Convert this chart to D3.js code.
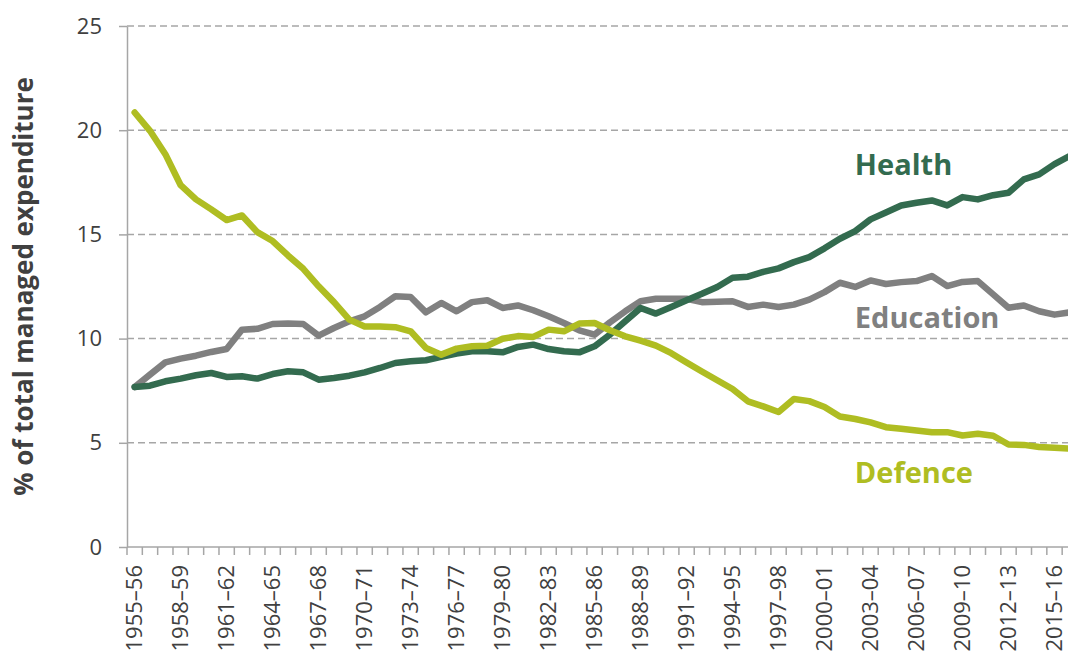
<!DOCTYPE html>
<html>
<head>
<meta charset="utf-8">
<script src="https://cdn.jsdelivr.net/npm/d3@7"></script>
<style>
    html, body { margin: 0; padding: 0; background: #fff; }
    svg { display: block; font-family: "Open Sans", sans-serif; }
</style>
</head>
<body>
<div id="chart"></div>
<script>
// financial years, 1955–56 to 2016–17
var years = [
    "1955–56", "1956–57", "1957–58", "1958–59", "1959–60", "1960–61", "1961–62", "1962–63",
    "1963–64", "1964–65", "1965–66", "1966–67", "1967–68", "1968–69", "1969–70", "1970–71",
    "1971–72", "1972–73", "1973–74", "1974–75", "1975–76", "1976–77", "1977–78", "1978–79",
    "1979–80", "1980–81", "1981–82", "1982–83", "1983–84", "1984–85", "1985–86", "1986–87",
    "1987–88", "1988–89", "1989–90", "1990–91", "1991–92", "1992–93", "1993–94", "1994–95",
    "1995–96", "1996–97", "1997–98", "1998–99", "1999–00", "2000–01", "2001–02", "2002–03",
    "2003–04", "2004–05", "2005–06", "2006–07", "2007–08", "2008–09", "2009–10", "2010–11",
    "2011–12", "2012–13", "2013–14", "2014–15", "2015–16", "2016–17"
];

var health = [
    7.68, 7.74, 7.95, 8.08, 8.24, 8.35, 8.16, 8.19, 8.08, 8.30,
    8.43, 8.38, 8.03, 8.11, 8.22, 8.38, 8.59, 8.83, 8.91, 8.96,
    9.12, 9.28, 9.39, 9.39, 9.34, 9.60, 9.71, 9.50, 9.39, 9.34,
    9.63, 10.19, 10.83, 11.47, 11.20, 11.52, 11.84, 12.15, 12.48, 12.92,
    12.97, 13.20, 13.37, 13.67, 13.91, 14.33, 14.79, 15.16, 15.72, 16.05,
    16.39, 16.52, 16.63, 16.39, 16.79, 16.68, 16.88, 17.00, 17.64, 17.88,
    18.37, 18.77
];

var education = [
    7.68, 8.27, 8.86, 9.04, 9.18, 9.36, 9.50, 10.43, 10.47, 10.70,
    10.72, 10.70, 10.14, 10.51, 10.83, 11.07, 11.52, 12.03, 12.00, 11.26,
    11.71, 11.31, 11.75, 11.84, 11.47, 11.59, 11.36, 11.07, 10.75, 10.40,
    10.19, 10.78, 11.31, 11.79, 11.91, 11.91, 11.91, 11.75, 11.77, 11.79,
    11.52, 11.63, 11.52, 11.63, 11.87, 12.23, 12.68, 12.48, 12.79, 12.62,
    12.71, 12.76, 13.00, 12.52, 12.72, 12.76, 12.12, 11.48, 11.59, 11.31,
    11.15, 11.26
];

var defence = [
    20.85, 19.97, 18.85, 17.36, 16.68, 16.20, 15.69, 15.91, 15.11, 14.68,
    13.99, 13.35, 12.51, 11.75, 10.91, 10.58, 10.58, 10.55, 10.35, 9.55,
    9.23, 9.52, 9.63, 9.66, 9.99, 10.12, 10.08, 10.43, 10.35, 10.72,
    10.75, 10.40, 10.11, 9.90, 9.66, 9.30, 8.85, 8.42, 8.00, 7.58,
    6.99, 6.75, 6.48, 7.10, 7.00, 6.72, 6.26, 6.14, 5.98, 5.75,
    5.67, 5.59, 5.51, 5.51, 5.35, 5.43, 5.34, 4.92, 4.90, 4.80,
    4.76, 4.72
];

var yTicks = [0, 5, 10, 15, 20, 25];
var seriesNames = ["Education", "Health", "Defence"];
var seriesValues = [education, health, defence];
var seriesColors = ["#808080", "#336b4f", "#afbd22"];
// where each name is written: category and value of its baseline
var labelYears = ["2003–04", "2003–04", "2003–04"];
var labelValues = [10.5, 17.85, 3.05];

const width = 1068,
    height = 655,
    plotLeft = 127,
    plotTop = 26,
    plotBottom = 547,
    plotRight = 1077.5;

const svg = d3.select("#chart")
    .append("svg")
    .attr("width", width)
    .attr("height", height);

const x = d3.scaleBand()
    .domain(years)
    .range([plotLeft, plotRight])
    .padding(0);

const y = d3.scaleLinear()
    .domain([0, 25])
    .range([plotBottom, plotTop]);

function cx(d) { return x(d) + x.bandwidth() / 2; }

// dashed gridlines
svg.append("g")
    .selectAll("line")
    .data(yTicks.filter(function (d) { return d > 0; }))
    .enter()
    .append("line")
    .attr("x1", plotLeft)
    .attr("x2", width)
    .attr("y1", function (d) { return y(d); })
    .attr("y2", function (d) { return y(d); })
    .attr("stroke", "#a6a6a6")
    .attr("stroke-width", 1.5)
    .attr("stroke-dasharray", "7,4");

// y axis
const yAxis = svg.append("g")
    .attr("transform", "translate(" + plotLeft + ",0)")
    .call(d3.axisLeft(y).tickValues(yTicks).tickSize(8).tickSizeOuter(0).tickPadding(17));

yAxis.select(".domain").attr("stroke", "#a6a6a6").attr("stroke-width", 1.5);
yAxis.selectAll(".tick line").attr("stroke", "#a6a6a6").attr("stroke-width", 1.5);
yAxis.selectAll(".tick text")
    .attr("fill", "#404040")
    .style("font-size", "22px")
    .style("font-family", "'Open Sans', sans-serif");

// x axis: ticks sit between the years
const xAxis = svg.append("g");

xAxis.append("line")
    .attr("x1", plotLeft)
    .attr("x2", width)
    .attr("y1", plotBottom)
    .attr("y2", plotBottom)
    .attr("stroke", "#a6a6a6")
    .attr("stroke-width", 1.5);

xAxis.selectAll("line.tick")
    .data(years.map(function (d) { return x(d); }).concat([plotRight]))
    .enter()
    .append("line")
    .attr("class", "tick")
    .attr("x1", function (d) { return d; })
    .attr("x2", function (d) { return d; })
    .attr("y1", plotBottom)
    .attr("y2", plotBottom + 8)
    .attr("stroke", "#a6a6a6")
    .attr("stroke-width", 1.5);

xAxis.selectAll("text")
    .data(years.filter(function (d, i) { return i % 3 === 0; }))
    .enter()
    .append("text")
    .attr("transform", function (d) { return "translate(" + cx(d) + "," + (plotBottom + 18) + ") rotate(-90)"; })
    .attr("dy", "0.35em")
    .style("text-anchor", "end")
    .style("font-size", "22px")
    .attr("fill", "#404040")
    .text(function (d) { return d; });

// y axis title
svg.append("text")
    .attr("transform", "translate(24," + ((plotTop + plotBottom) / 2) + ") rotate(-90)")
    .attr("dy", "0.35em")
    .style("text-anchor", "middle")
    .style("font-size", "26px")
    .style("font-weight", "bold")
    .attr("fill", "#404040")
    .text("% of total managed expenditure");

// lines
const line = d3.line()
    .x(function (d, i) { return cx(years[i]); })
    .y(function (d) { return y(d); });

svg.append("g")
    .selectAll("path")
    .data(seriesValues)
    .enter()
    .append("path")
    .attr("d", line)
    .attr("fill", "none")
    .attr("stroke", function (d, i) { return seriesColors[i]; })
    .attr("stroke-width", 6.5)
    .attr("stroke-linejoin", "round")
    .attr("stroke-linecap", "round");

// series names
svg.append("g")
    .selectAll("text")
    .data(seriesNames)
    .enter()
    .append("text")
    .attr("x", function (d, i) { return x(labelYears[i]) - 8; })
    .attr("y", function (d, i) { return y(labelValues[i]); })
    .style("font-size", "29px")
    .style("font-weight", "bold")
    .attr("fill", function (d, i) { return seriesColors[i]; })
    .text(function (d) { return d; });
</script>
</body>
</html>
